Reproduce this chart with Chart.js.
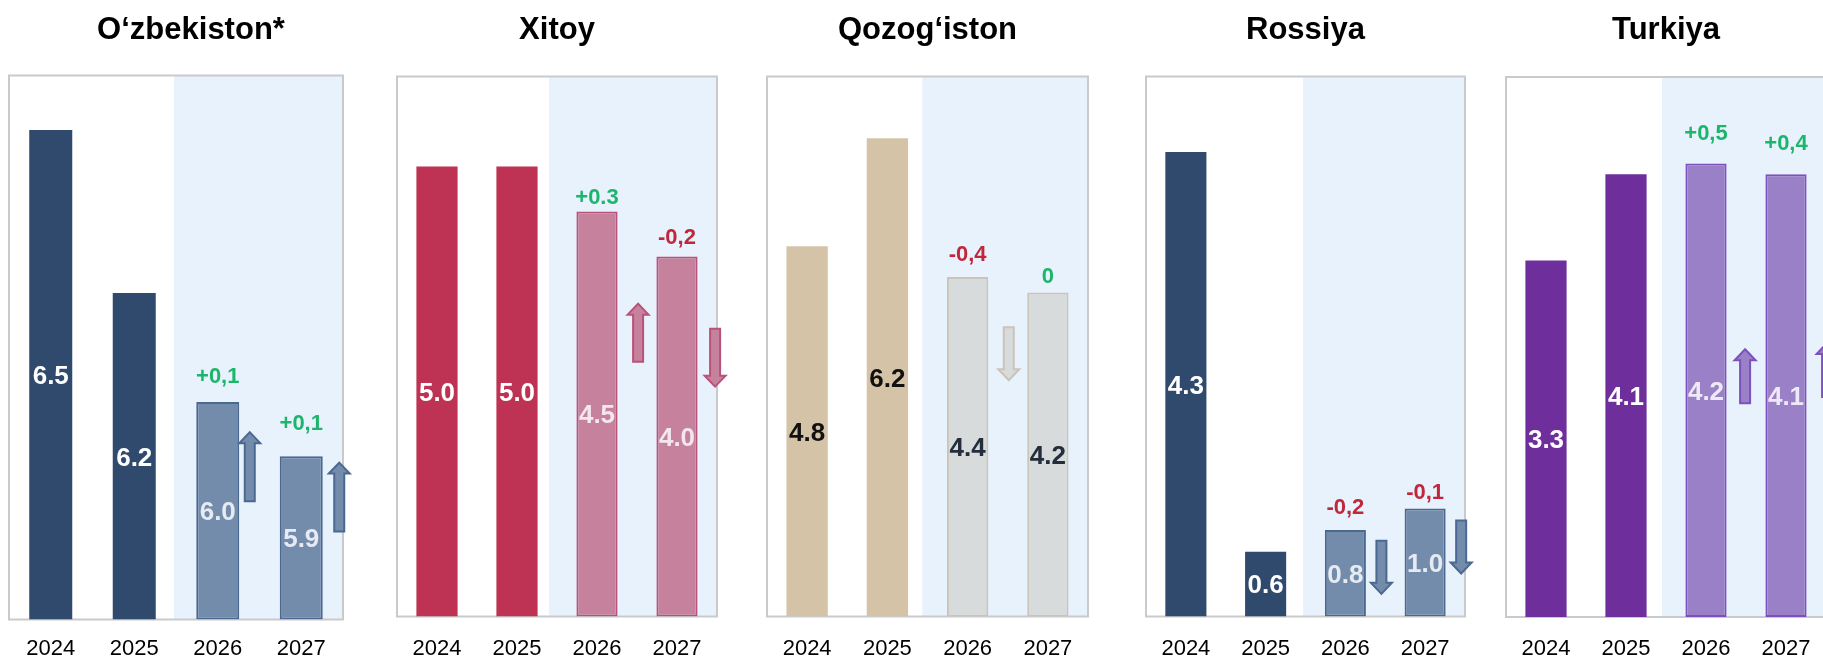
<!DOCTYPE html>
<html lang="uz">
<head>
<meta charset="utf-8">
<title>YaIM o‘sishi prognozi</title>
<script src="https://cdn.jsdelivr.net/npm/chart.js@4.4.1/dist/chart.umd.min.js"></script>
<style>
  html, body { margin: 0; padding: 0; background: #ffffff; overflow: hidden; }
  body { width: 1823px; height: 657px; position: relative; }
  canvas { position: absolute; top: 0; }
</style>
</head>
<body>
<canvas id="p0" width="370" height="657"></canvas>
<canvas id="p1" width="380" height="657"></canvas>
<canvas id="p2" width="370" height="657"></canvas>
<canvas id="p3" width="370" height="657"></canvas>
<canvas id="p4" width="345" height="657"></canvas>
<script>
// Yillar va mamlakatlar
const years = ['2024', '2025', '2026', '2027'];
const countries = ['O‘zbekiston*', 'Xitoy', 'Qozog‘iston', 'Rossiya', 'Turkiya'];

// O'sish sur'atlari (%)
const uzbValues = [6.5, 6.2, 6.0, 5.9];
const chnValues = [5.0, 5.0, 4.5, 4.0];
const kazValues = [4.8, 6.2, 4.4, 4.2];
const rusValues = [4.3, 0.6, 0.8, 1.0];
const turValues = [3.3, 4.1, 4.2, 4.1];

// Oldingi prognozga nisbatan o'zgarish (2026, 2027)
const uzbChange = [0.1, 0.1];
const chnChange = [0.3, -0.2];
const kazChange = [-0.4, 0];
const rusChange = [-0.2, -0.1];
const turChange = [0.5, 0.4];
const uzbChangeText = ['+0,1', '+0,1'];
const chnChangeText = ['+0.3', '-0,2'];
const kazChangeText = ['-0,4', '0'];
const rusChangeText = ['-0,2', '-0,1'];
const turChangeText = ['+0,5', '+0,4'];

// O'q chegaralari
const axisMin = [5.6, 0, 0, 0, 0];
const axisMax = [6.6, 6, 7, 5, 5];

// Ranglar
const palette = {
  navy:   { actual: '#304a6e', fcst: '#748cab', edge: '#4a6890', text: '#ffffff', fcstText: '#e6ebf3' },
  red:    { actual: '#be3353', fcst: '#c6819c', edge: '#b9527b', text: '#ffffff', fcstText: '#f3e6ec' },
  sand:   { actual: '#d5c3a8', fcst: '#d7dbdc', edge: '#cbc4b8', text: '#111111', fcstText: '#232d3b' },
  purple: { actual: '#6e2e9c', fcst: '#9a80c6', edge: '#7c50be', text: '#ffffff', fcstText: '#eee9f7' }
};
const GREEN = '#1db56b';
const RED = '#c1273a';

// Panellar
const panels = [
  { title: countries[0], values: uzbValues, change: uzbChange, changeText: uzbChangeText, col: palette.navy },
  { title: countries[1], values: chnValues, change: chnChange, changeText: chnChangeText, col: palette.red },
  { title: countries[2], values: kazValues, change: kazChange, changeText: kazChangeText, col: palette.sand },
  { title: countries[3], values: rusValues, change: rusChange, changeText: rusChangeText, col: palette.navy },
  { title: countries[4], values: turValues, change: turChange, changeText: turChangeText, col: palette.purple }
];

// Joylashuv (piksel) - alohida
const layout = [
  { left: 0,    width: 370, boxL: 9,    boxR: 343,  boxT: 75.5, boxB: 619.5, titleDx: 15, shadeFrom: 1.475,
    gap: [19, 26], arrowGap: [0, 6],  arrowMid: [5.881, 5.825], arrowLen: 69 },
  { left: 370,  width: 380, boxL: 397,  boxR: 717,  boxT: 76.5, boxB: 616.5, titleDx: 0, shadeFrom: 1.40,
    gap: [8, 13],  arrowGap: [10, 7], arrowMid: [3.154, 2.876], arrowLen: 58 },
  { left: 750,  width: 370, boxL: 767,  boxR: 1088, boxT: 76.5, boxB: 616.5, titleDx: 0, shadeFrom: 1.435,
    gap: [16, 10], arrowGap: [10, 0], arrowMid: [3.406, null], arrowLen: 53 },
  { left: 1120, width: 370, boxL: 1146, boxR: 1465, boxT: 76.5, boxB: 616.5, titleDx: 0, shadeFrom: 1.47,
    gap: [16, 10], arrowGap: [5, 5],  arrowMid: [0.455, 0.644], arrowLen: 53 },
  { left: 1490, width: 345, boxL: 1506, boxR: 1826, boxT: 77,   boxB: 617,   titleDx: 0, shadeFrom: 1.45,
    gap: [23, 24], arrowGap: [8, 10], arrowMid: [2.229, 2.287], arrowLen: 54 }
];

const FONT = '"Liberation Sans", Arial, sans-serif';
Chart.defaults.font.family = FONT;

// Blok o'q chizish
function drawArrow(ctx, cx, yMid, len, dir, fill, stroke) {
  const head = 11, hw = 10.5, sw = 5;
  const t = yMid - len / 2, b = yMid + len / 2;
  ctx.save();
  ctx.beginPath();
  if (dir > 0) {
    ctx.moveTo(cx, t);
    ctx.lineTo(cx + hw, t + head);
    ctx.lineTo(cx + sw, t + head);
    ctx.lineTo(cx + sw, b);
    ctx.lineTo(cx - sw, b);
    ctx.lineTo(cx - sw, t + head);
    ctx.lineTo(cx - hw, t + head);
  } else {
    ctx.moveTo(cx, b);
    ctx.lineTo(cx + hw, b - head);
    ctx.lineTo(cx + sw, b - head);
    ctx.lineTo(cx + sw, t);
    ctx.lineTo(cx - sw, t);
    ctx.lineTo(cx - sw, b - head);
    ctx.lineTo(cx - hw, b - head);
  }
  ctx.closePath();
  ctx.fillStyle = fill;
  ctx.fill();
  ctx.lineWidth = 2;
  ctx.strokeStyle = stroke;
  ctx.stroke();
  ctx.restore();
}

panels.forEach((p, k) => {
  const L = layout[k];
  const canvas = document.getElementById('p' + k);
  canvas.style.left = L.left + 'px';
  canvas.width = L.width;
  canvas.height = 657;

  // Fon va ramka
  const panelBox = {
    id: 'panelBox',
    beforeDatasetsDraw(chart) {
      const { ctx, chartArea: a, scales: { x } } = chart;
      const sx = x.getPixelForValue(L.shadeFrom);
      ctx.save();
      ctx.fillStyle = '#e8f2fd';
      ctx.fillRect(sx, a.top, a.right - sx, a.bottom - a.top);
      ctx.lineWidth = 2;
      ctx.strokeStyle = '#c9cacb';
      ctx.strokeRect(a.left, a.top, a.right - a.left, a.bottom - a.top);
      ctx.restore();
    }
  };

  // Sarlavha, qiymatlar, o'zgarishlar va o'qlar
  const panelText = {
    id: 'panelText',
    afterDatasetsDraw(chart) {
      const { ctx, chartArea: a, scales: { y } } = chart;
      const bars = chart.getDatasetMeta(0).data;
      ctx.save();
      ctx.textAlign = 'center';
      ctx.textBaseline = 'alphabetic';

      ctx.fillStyle = '#000000';
      ctx.font = 'bold 31px ' + FONT;
      ctx.fillText(p.title, (a.left + a.right) / 2 + L.titleDx, 38.5);

      ctx.font = 'bold 26px ' + FONT;
      bars.forEach((bar, i) => {
        const base = Math.min(bar.base, a.bottom);
        ctx.fillStyle = i < 2 ? p.col.text : p.col.fcstText;
        ctx.fillText(p.values[i].toFixed(1), bar.x, (bar.y + base) / 2 + 9.3);
      });

      ctx.font = 'bold 22px ' + FONT;
      p.change.forEach((c, j) => {
        const bar = bars[j + 2];
        ctx.fillStyle = c < 0 ? RED : GREEN;
        ctx.fillText(p.changeText[j], bar.x, bar.y - L.gap[j]);
        if (c !== 0 && L.arrowMid[j] !== null) {
          const cx = bar.x + bar.width / 2 + L.arrowGap[j] + 10.5;
          drawArrow(ctx, cx, y.getPixelForValue(L.arrowMid[j]), L.arrowLen,
            c > 0 ? 1 : -1, p.col.fcst, p.col.edge);
        }
      });
      ctx.restore();
    }
  };

  new Chart(canvas, {
    type: 'bar',
    data: {
      labels: years,
      datasets: [{
        data: p.values,
        base: axisMin[k],
        backgroundColor: [p.col.actual, p.col.actual, p.col.fcst, p.col.fcst],
        borderColor: [p.col.actual, p.col.actual, p.col.edge, p.col.edge],
        borderWidth: [0, 0, 2, 2],
        borderSkipped: false,
        categoryPercentage: 1,
        barPercentage: 0.515
      }]
    },
    options: {
      responsive: false,
      animation: false,
      devicePixelRatio: 1,
      layout: { padding: { left: L.boxL - L.left, right: L.left + L.width - L.boxR, top: L.boxT, bottom: 0 } },
      plugins: { legend: { display: false }, title: { display: false }, tooltip: { enabled: false } },
      scales: {
        y: { display: false, min: axisMin[k], max: axisMax[k], beginAtZero: false },
        x: {
          grid: { display: false, drawTicks: false },
          border: { display: false },
          ticks: { color: '#000000', font: { size: 22 }, padding: 649.2 - L.boxB - 13.2, maxRotation: 0, autoSkip: false },
          afterFit(s) { s.height = 657 - L.boxB; }
        }
      }
    },
    plugins: [panelBox, panelText]
  });
});
</script>
</body>
</html>
